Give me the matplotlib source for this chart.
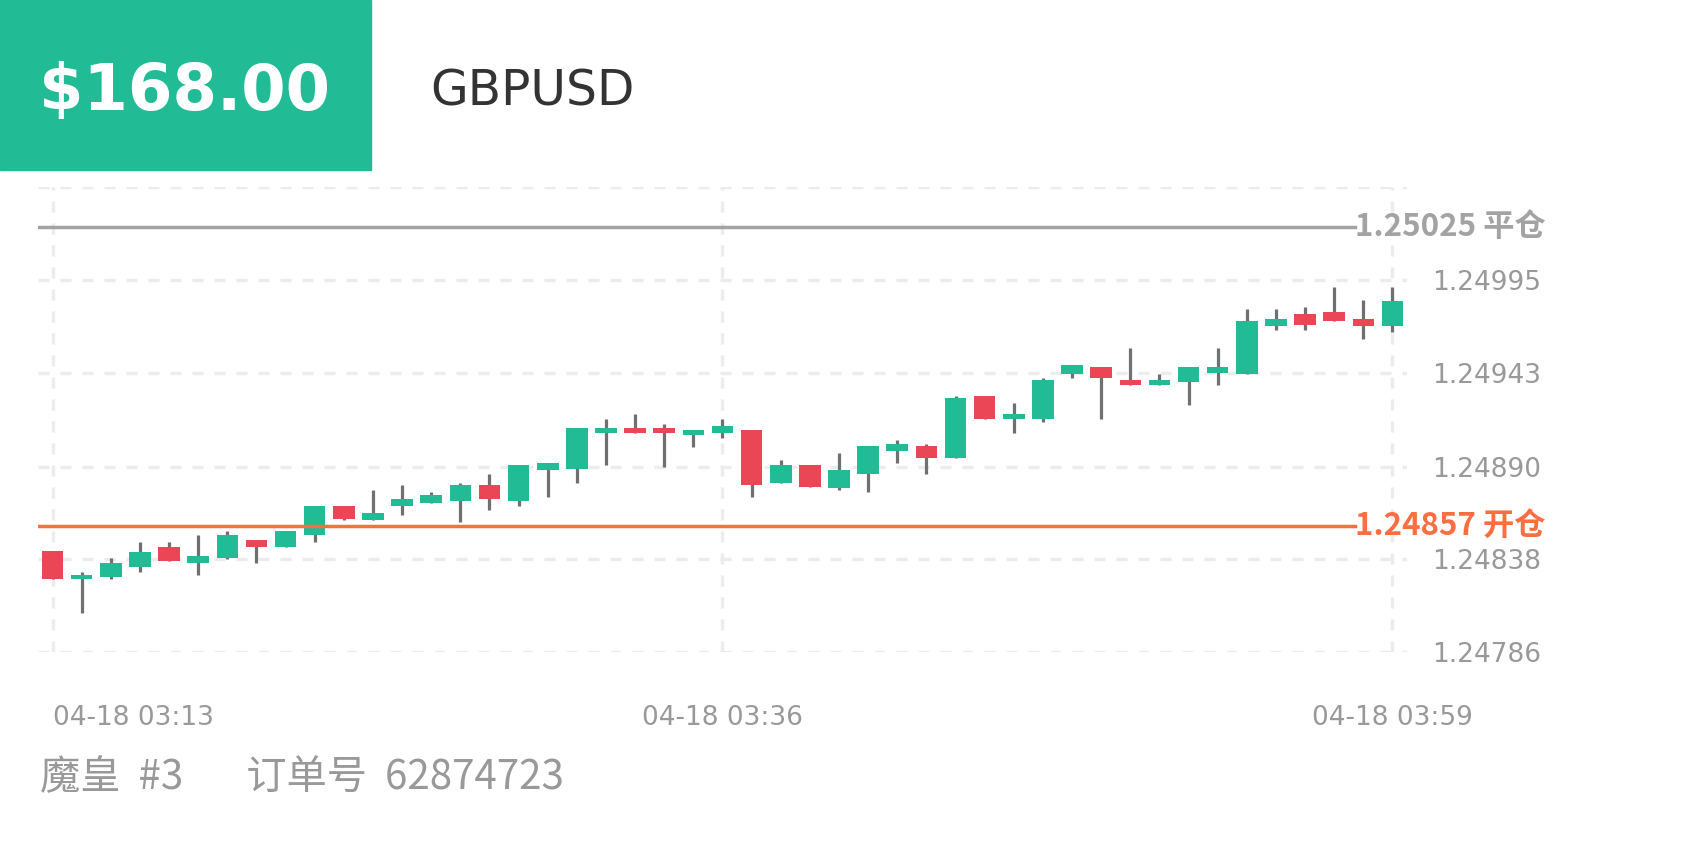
import numpy as np
import matplotlib
matplotlib.use('Agg')
import matplotlib.pyplot as plt
from matplotlib.patches import Rectangle

plt.rcParams['font.family'] = ['Noto Sans CJK SC', 'DejaVu Sans']

# donnees des bougies (1 minute, 03:13 -> 03:59)
opens = [1.24843, 1.24827, 1.24828, 1.24834, 1.24845, 1.24836, 1.24839, 1.24849,
         1.24845, 1.24852, 1.24868, 1.24860, 1.24868, 1.24870, 1.24871, 1.24880,
         1.24871, 1.24888, 1.24889, 1.24909, 1.24912, 1.24912, 1.24908, 1.24909,
         1.24911, 1.24881, 1.24891, 1.24878, 1.24886, 1.24899, 1.24902, 1.24895,
         1.24930, 1.24917, 1.24917, 1.24942, 1.24946, 1.24939, 1.24936, 1.24938,
         1.24943, 1.24942, 1.24969, 1.24976, 1.24977, 1.24973, 1.24969]
closes = [1.24827, 1.24829, 1.24836, 1.24842, 1.24837, 1.24840, 1.24852, 1.24845,
          1.24854, 1.24868, 1.24861, 1.24864, 1.24872, 1.24874, 1.24880, 1.24872,
          1.24891, 1.24892, 1.24912, 1.24912, 1.24909, 1.24909, 1.24911, 1.24913,
          1.24880, 1.24891, 1.24879, 1.24888, 1.24902, 1.24903, 1.24895, 1.24929,
          1.24917, 1.24920, 1.24939, 1.24947, 1.24940, 1.24936, 1.24939, 1.24946,
          1.24946, 1.24972, 1.24973, 1.24970, 1.24972, 1.24969, 1.24983]
highs = [1.24843, 1.24831, 1.24839, 1.24848, 1.24848, 1.24852, 1.24854, 1.24849,
         1.24854, 1.24868, 1.24868, 1.24877, 1.24880, 1.24876, 1.24881, 1.24886,
         1.24891, 1.24892, 1.24912, 1.24917, 1.24920, 1.24914, 1.24911, 1.24917,
         1.24911, 1.24894, 1.24891, 1.24898, 1.24902, 1.24905, 1.24903, 1.24930,
         1.24930, 1.24926, 1.24940, 1.24947, 1.24946, 1.24957, 1.24942, 1.24946,
         1.24957, 1.24979, 1.24979, 1.24980, 1.24991, 1.24984, 1.24991]
lows = [1.24827, 1.24808, 1.24827, 1.24831, 1.24837, 1.24829, 1.24838, 1.24836,
        1.24845, 1.24848, 1.24860, 1.24860, 1.24863, 1.24870, 1.24859, 1.24866,
        1.24868, 1.24873, 1.24881, 1.24891, 1.24909, 1.24890, 1.24901, 1.24906,
        1.24873, 1.24881, 1.24879, 1.24877, 1.24876, 1.24892, 1.24886, 1.24895,
        1.24917, 1.24909, 1.24915, 1.24940, 1.24917, 1.24936, 1.24936, 1.24925,
        1.24936, 1.24942, 1.24967, 1.24967, 1.24972, 1.24962, 1.24966]

x_labels = ['04-18 03:13', '04-18 03:36', '04-18 03:59']
x_label_pos = [0, 23, 46]
y_ticks = [1.24786, 1.24838, 1.24890, 1.24943, 1.24995, 1.250473]
y_labels = ['1.24786', '1.24838', '1.24890', '1.24943', '1.24995', '']

open_price = 1.24857
close_price = 1.25025
profit = '$168.00'
symbol = 'GBPUSD'
footer = '魔皇  #3       订单号  62874723'

GREEN = '#21bb95'
RED = '#eb4656'
WICK = '#707070'
ORANGE = '#ff6e40'
GREY = '#a3a3a3'
TXT = '#999999'

fig = plt.figure(figsize=(16.88, 8.44), dpi=100)
W, H = 1688, 844

# bandeau vert en haut a gauche
fig.patches.append(Rectangle((0, 1 - 170 / H), 371 / W, 170 / H,
                             transform=fig.transFigure, color=GREEN, zorder=0))
fig.text(185 / W, 1 - 92 / H, profit, color='white', fontsize=46,
         fontweight='bold', family='DejaVu Sans', ha='center', va='center')
fig.text(430 / W, 1 - 92 / H, symbol, color='#333333', fontsize=35,
         family='DejaVu Sans', ha='left', va='center')

ax = fig.add_axes([38 / W, 1 - 652 / H, 1369 / W, 465 / H])
ax.set_xlim(-0.5, 46.5)
ax.set_ylim(y_ticks[0], y_ticks[-1])

o = np.array(opens)
c = np.array(closes)
xs = np.arange(len(o))
cols = [GREEN if cc >= oo else RED for oo, cc in zip(o, c)]

ax.vlines(xs, lows, highs, color=WICK, linewidth=2.3, zorder=2)
ax.bar(xs, np.maximum(np.abs(c - o), 0.000012), bottom=np.minimum(o, c),
       width=0.74, color=cols, zorder=3)

# lignes ouverture / fermeture
end = (1355 - 38) / 1369
ax.axhline(close_price, xmin=0, xmax=end, color=GREY, linewidth=2.5, zorder=4)
ax.axhline(open_price, xmin=0, xmax=end, color=ORANGE, linewidth=2.5, zorder=4)
ax.text(end, close_price, f'{close_price:.5f} 平仓', color=GREY,
        transform=ax.get_yaxis_transform(), fontsize=22.5, fontweight='bold',
        ha='left', va='center', clip_on=False, zorder=5)
ax.text(end, open_price, f'{open_price:.5f} 开仓', color=ORANGE,
        transform=ax.get_yaxis_transform(), fontsize=22.5, fontweight='bold',
        ha='left', va='center', clip_on=False, zorder=5)

ax.set_yticks(y_ticks)
ax.set_yticklabels(y_labels)
ax.yaxis.tick_right()
ax.set_xticks(x_label_pos)
ax.set_xticklabels(x_labels)
ax.get_xticklabels()[0].set_ha('left')
ax.tick_params(axis='y', length=0, pad=18, labelsize=19, labelcolor=TXT)
ax.tick_params(axis='x', length=0, pad=38, labelsize=19, labelcolor=TXT)
for lab in ax.get_xticklabels() + ax.get_yticklabels():
    lab.set_family('DejaVu Sans')

ax.grid(True, color='#ececec', linestyle=(0, (3.3, 3.3)), linewidth=2.4)
ax.set_axisbelow(True)
for s in ax.spines.values():
    s.set_visible(False)

fig.text(40 / W, 1 - 778 / H, footer, color=TXT, fontsize=29,
         ha='left', va='center')

fig.savefig('out.png', dpi=100)
